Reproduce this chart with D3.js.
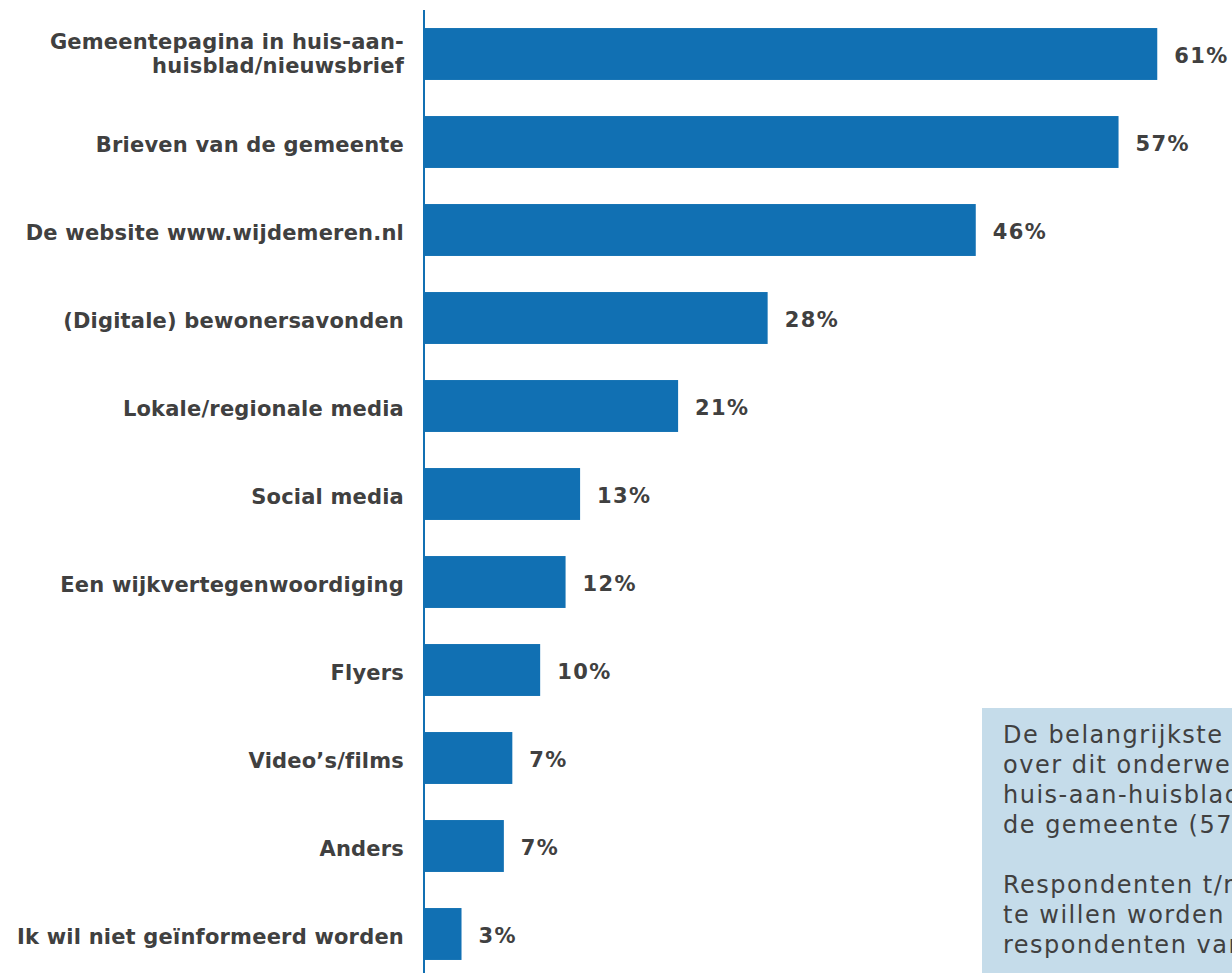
<!DOCTYPE html>
<html><head><meta charset="utf-8">
<script src="https://cdn.jsdelivr.net/npm/d3@7"></script>
<style>
html,body{margin:0;padding:0;background:#fff;overflow:hidden;}
svg{display:block;}
</style></head>
<body>
<svg id="chart" width="1232" height="973"></svg>
<script>
const categories = [
  ["Gemeentepagina in huis-aan-", "huisblad/nieuwsbrief"],
  ["Brieven van de gemeente"],
  ["De website www.wijdemeren.nl"],
  ["(Digitale) bewonersavonden"],
  ["Lokale/regionale media"],
  ["Social media"],
  ["Een wijkvertegenwoordiging"],
  ["Flyers"],
  ["Video’s/films"],
  ["Anders"],
  ["Ik wil niet geïnformeerd worden"]
];
const values = [60.6, 57.4, 45.6, 28.4, 21.0, 12.9, 11.7, 9.6, 7.3, 6.6, 3.1];
const valueLabels = ["61%", "57%", "46%", "28%", "21%", "13%", "12%", "10%", "7%", "7%", "3%"];
const noteLines = [
  "De belangrijkste kanalen om geïnformeerd te worden",
  "over dit onderwerp zijn de gemeentepagina in het",
  "huis-aan-huisblad/nieuwsbrief (61%) en brieven van",
  "de gemeente (57%).",
  "",
  "Respondenten t/m 34 jaar geven vaker aan niet",
  "te willen worden geïnformeerd (8%) dan",
  "respondenten van 35 jaar en ouder."
];

const svg = d3.select("#chart");
const textColor = "#404040";
const barColor = "#1170b3";
const fontFam = "'DejaVu Sans', Verdana, sans-serif";

const x = d3.scaleLinear().domain([0, 100]).range([424, 1634]);
const y = d3.scaleBand().domain(d3.range(categories.length)).range([10, 978]).paddingInner(0.41).paddingOuter(0.205);

// bars
svg.append("g").selectAll("rect").data(values).join("rect")
  .attr("x", x(0))
  .attr("y", (d, i) => y(i))
  .attr("width", d => x(d) - x(0))
  .attr("height", y.bandwidth())
  .attr("fill", barColor);

// axis line
svg.append("line")
  .attr("x1", x(0)).attr("x2", x(0))
  .attr("y1", 10).attr("y2", 973)
  .attr("stroke", barColor).attr("stroke-width", 2);

// value labels
svg.append("g").selectAll("text").data(values).join("text")
  .attr("x", d => x(d) + 17)
  .attr("y", (d, i) => y(i) + y.bandwidth() / 2 + 9)
  .attr("font-family", fontFam)
  .attr("font-weight", "bold")
  .attr("font-size", 21)
  .attr("letter-spacing", "1.4px")
  .attr("fill", textColor)
  .text((d, i) => valueLabels[i]);

// category labels
const cat = svg.append("g").selectAll("text").data(categories).join("text")
  .attr("text-anchor", "end")
  .attr("font-family", fontFam)
  .attr("font-weight", "bold")
  .attr("font-size", 21)
  .attr("letter-spacing", "0.2px")
  .attr("fill", textColor);
cat.each(function(d, i) {
  const t = d3.select(this);
  const n = d.length;
  const base = y(i) + y.bandwidth() / 2 + 9.5 - (n - 1) * 14.5;
  d.forEach((line, k) => {
    t.append("tspan")
      .attr("x", 404)
      .attr("y", base + k * 24)
      .text(line);
  });
});

// note box
const note = svg.append("g");
note.append("rect")
  .attr("x", 982).attr("y", 708)
  .attr("width", 260).attr("height", 265)
  .attr("fill", "#c5dcea");
note.append("g").selectAll("text").data(noteLines).join("text")
  .attr("x", 1003)
  .attr("y", (d, i) => 743 + i * 30)
  .attr("font-family", fontFam)
  .attr("font-size", 24)
  .attr("letter-spacing", "1.5px")
  .attr("fill", textColor)
  .text(d => d);
</script>
</body></html>
